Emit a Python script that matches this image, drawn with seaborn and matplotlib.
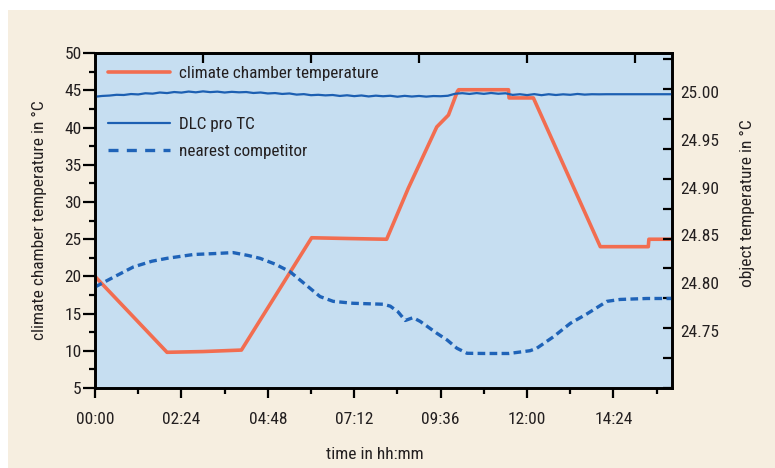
import numpy as np
import pandas as pd
import matplotlib
matplotlib.use("Agg")
import matplotlib.pyplot as plt
from matplotlib.lines import Line2D
from matplotlib.patches import Rectangle
from matplotlib.ticker import FixedLocator, MultipleLocator, FuncFormatter
import seaborn as sns

# ---- data (time in minutes since start) ----
chamber_time = [0, 120, 180, 244, 361, 420, 486, 522, 569.5, 589, 604, 606,
                689, 690, 730.5, 842, 922, 923, 962]
chamber_temp = [20.0, 9.8, 9.9, 10.1, 25.2, 25.1, 25.0, 31.85, 40.1, 41.7,
                44.9, 45.1, 45.1, 44.0, 44.0, 24.0, 24.0, 25.0, 25.0]

dlc_time = list(range(0, 961, 12))
dlc_temp = [24.9950, 24.9958, 24.9962, 24.9970, 24.9968, 24.9978, 24.9974,
            24.9986, 24.9982, 24.9994, 24.9988, 24.9999, 24.9993, 25.0004,
            24.9996, 25.0006, 24.9998, 25.0003, 24.9994, 25.0001, 24.9996,
            24.9999, 24.9989, 24.9994, 24.9984, 24.9988, 24.9979, 24.9984,
            24.9972, 24.9977, 24.9966, 24.9970, 24.9964, 24.9968, 24.9958,
            24.9965, 24.9956, 24.9963, 24.9953, 24.9961, 24.9955, 24.9960,
            24.9950, 24.9959, 24.9952, 24.9958, 24.9951, 24.9957, 24.9955,
            24.9960, 24.9981, 24.9987, 24.9979, 24.9988, 24.9980, 24.9989,
            24.9981, 24.9986, 24.9969, 24.9976, 24.9967, 24.9977, 24.9966,
            24.9976, 24.9968, 24.9975, 24.9970, 24.9979, 24.9972, 24.9976,
            24.9975, 24.9976, 24.9976, 24.9976, 24.9976, 24.9976, 24.9976,
            24.9976, 24.9976, 24.9976, 24.9976]

rival_time = [0, 30, 64, 95, 120, 164, 200, 230, 255, 275, 300, 325, 350,
              375, 397, 430, 480, 492, 505, 517, 530, 542, 570, 587, 603,
              620, 650, 690, 725, 736, 764, 792, 820, 853, 875, 920, 962]
rival_temp = [24.796, 24.806, 24.817, 24.823, 24.826, 24.830, 24.831,
              24.832, 24.829, 24.826, 24.820, 24.812, 24.799, 24.786,
              24.781, 24.779, 24.778, 24.776, 24.770, 24.761, 24.764,
              24.760, 24.7475, 24.7405, 24.732, 24.7267, 24.7265, 24.7265,
              24.7294, 24.7319, 24.744, 24.758, 24.768, 24.781, 24.783,
              24.784, 24.784]

left_ticks = [5, 10, 15, 20, 25, 30, 35, 40, 45, 50]
right_ticks = [24.75, 24.80, 24.85, 24.90, 24.95, 25.00]
time_ticks = [0, 144, 288, 432, 576, 720, 864]

labels = ["climate chamber temperature", "DLC pro TC", "nearest competitor"]

# ---- styling ----
sns.set_theme(style="ticks")
plt.rcParams["font.family"] = ["Roboto Condensed", "Open Sans Condensed",
                               "Liberation Sans Narrow", "Liberation Sans",
                               "DejaVu Sans"]
plt.rcParams["axes.unicode_minus"] = False

ORANGE = "#f26d50"
BLUE = "#1c5fb2"
DASH_BLUE = "#1f63b8"
PANEL = "#c6def1"
PAPER = "#f6eee0"
INK = "#231f20"
FS = 12.5
FS_LEG = 12.3

fig = plt.figure(figsize=(7.75, 4.68), dpi=100, facecolor="white")
fig.patches.append(Rectangle((8 / 775, 0), 1 - 8 / 775, 458 / 468,
                             transform=fig.transFigure, facecolor=PAPER,
                             edgecolor="none", zorder=-10))

ax = fig.add_axes([95 / 775, 80 / 468, 577.3 / 775, 334.7 / 468])
ax.set_facecolor(PANEL)
ax2 = ax.twinx()

chamber = pd.DataFrame({"t": chamber_time, "v": chamber_temp})
dlc = pd.DataFrame({"t": dlc_time, "v": dlc_temp})
rival = pd.DataFrame({"t": rival_time, "v": rival_temp})

sns.lineplot(data=chamber, x="t", y="v", ax=ax, color=ORANGE, lw=2.6,
             estimator=None, sort=False, legend=False)
sns.lineplot(data=dlc, x="t", y="v", ax=ax2, color=BLUE, lw=1.6,
             estimator=None, sort=False, legend=False)
sns.lineplot(data=rival, x="t", y="v", ax=ax2, color=DASH_BLUE, lw=2.4,
             estimator=None, sort=False, legend=False)
ax2.lines[-1].set_dashes((2.3, 1.3))

# axis limits
ax.set_xlim(0, 962)
ax.set_ylim(5, 50)
r_lo, r_hi = 24.6904, 25.0404
ax2.set_ylim(r_lo, r_hi)

# bottom axis: hh:mm labels
ax.xaxis.set_major_locator(FixedLocator(time_ticks))
ax.xaxis.set_minor_locator(MultipleLocator(72))
ax.xaxis.set_major_formatter(FuncFormatter(
    lambda v, p: f"{int(v) // 60:02d}:{int(v) % 60:02d}"))

# left axis
ax.yaxis.set_major_locator(FixedLocator(left_ticks))
ax.yaxis.set_minor_locator(MultipleLocator(2.5))

# right axis: labels plus separate inner tick marks
ax2.yaxis.set_major_locator(FixedLocator(right_ticks))
ax2.yaxis.set_major_formatter(FuncFormatter(lambda v, p: f"{v:.2f}"))
step = (r_hi - r_lo) * 29.88 / 334.7
ax2.yaxis.set_minor_locator(FixedLocator([r_lo + k * step for k in range(12)]))

for a in (ax, ax2):
    for s in a.spines.values():
        s.set_linewidth(1.9)
        s.set_color("black")
        s.set_visible(True)

ax.tick_params(axis="x", which="major", direction="out", length=7.5,
               width=1.6, pad=10, labelsize=FS, colors="black",
               labelcolor=INK)
ax.tick_params(axis="x", which="minor", direction="out", length=4,
               width=1.6, colors="black")
ax.tick_params(axis="y", which="major", direction="out", length=8.5,
               width=1.6, pad=1, labelsize=FS, colors="black",
               labelcolor=INK)
ax.tick_params(axis="y", which="minor", direction="out", length=4.3,
               width=1.6, colors="black")
ax2.tick_params(axis="y", which="major", length=0, pad=6, labelsize=FS,
                labelcolor=INK)
ax2.tick_params(axis="y", which="minor", direction="in", length=6.5,
                width=1.6, colors="black")

top = ax.secondary_xaxis("top")
top.set_xticks([180, 360, 540, 720, 900])
top.tick_params(direction="in", length=7, width=1.6, labeltop=False,
                colors="black")
top.spines["top"].set_linewidth(1.9)

ax.set_xlabel("time in hh:mm", fontsize=FS, color=INK)
ax.xaxis.set_label_coords(0.485, -0.175)
ax.set_ylabel("climate chamber temperature in °C", fontsize=FS, color=INK)
ax.yaxis.set_label_coords(-0.083, 0.5)
ax2.set_ylabel("object temperature in °C", fontsize=FS, color=INK)
ax2.yaxis.set_label_coords(1.117, 0.551)

# legends: chamber entry on its own, the two sensors grouped below
h_chamber = Line2D([], [], color=ORANGE, lw=2.6)
h_dlc = Line2D([], [], color=BLUE, lw=1.6)
h_rival = Line2D([], [], color=DASH_BLUE, lw=2.4, dashes=(3.0, 2.5))
common = dict(frameon=False, fontsize=FS_LEG, handlelength=3.65,
              handletextpad=0.5, borderpad=0, borderaxespad=0,
              loc="center left")
leg1 = ax2.legend([h_chamber], labels[:1],
                  bbox_to_anchor=(0.0225, 0.941), **common)
for t in leg1.get_texts():
    t.set_color(INK)
ax2.add_artist(leg1)
leg2 = ax2.legend([h_dlc, h_rival], labels[1:], labelspacing=0.65,
                  bbox_to_anchor=(0.0225, 0.747), **common)
for t in leg2.get_texts():
    t.set_color(INK)

fig.savefig("out.png", dpi=100, facecolor=fig.get_facecolor())
